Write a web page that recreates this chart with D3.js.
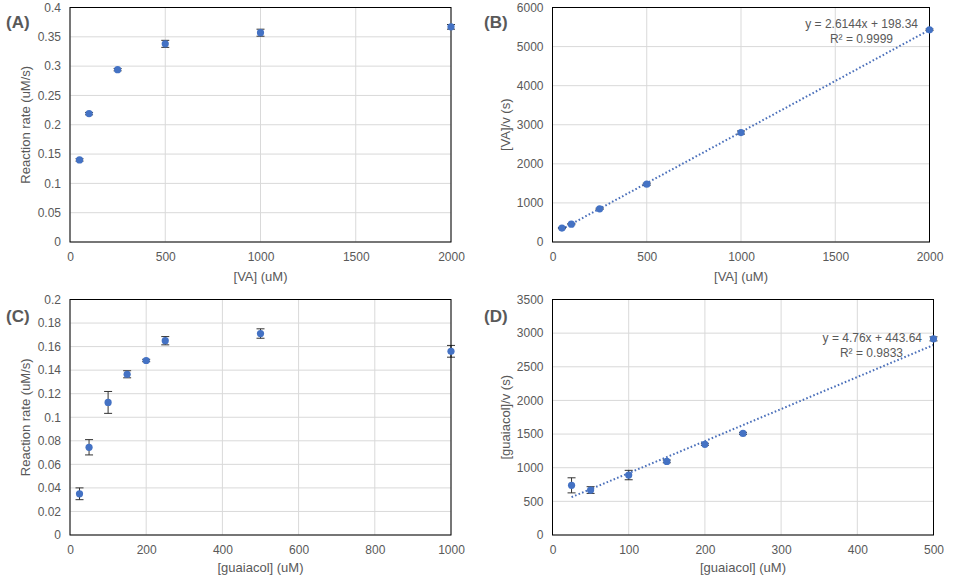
<!DOCTYPE html>
<html><head><meta charset="utf-8">
<script src="https://cdn.jsdelivr.net/npm/d3@7"></script>
<style>body{margin:0;background:#fff}svg{display:block}text{font-family:"Liberation Sans",Arial,sans-serif}</style>
</head><body><svg id="c" width="958" height="586"></svg>
<script>
// Panel A: [VA] vs rate
const vaConc = [50, 100, 250, 500, 1000, 2000];
const vaRate = [0.140, 0.219, 0.294, 0.338, 0.357, 0.367];
const vaRateErr = [0.002, 0.002, 0.002, 0.006, 0.006, 0.004];
// Panel B: Hanes-Woolf [VA]/v
const vaHanes = [357, 457, 850, 1479, 2801, 5430];
const vaHanesErr = [15, 15, 15, 25, 40, 20];
const vaFit = {slope: 2.6144, intercept: 198.34, eq: "y = 2.6144x + 198.34", r2: "R² = 0.9999"};
// Panel C: guaiacol vs rate
const gConc = [25, 50, 100, 150, 200, 250, 500, 1000];
const gRate = [0.035, 0.0745, 0.1126, 0.1365, 0.1482, 0.1650, 0.1711, 0.1560];
const gRateErr = [0.005, 0.0065, 0.0093, 0.003, 0.001, 0.0035, 0.004, 0.005];
// Panel D: Hanes-Woolf [guaiacol]/v
const gHanesConc = [25, 50, 100, 150, 200, 250, 500];
const gHanes = [738, 668, 891, 1094, 1347, 1510, 2915];
const gHanesErr = [112, 50, 70, 20, 15, 15, 30];
const gFit = {slope: 4.76, intercept: 443.64, eq: "y = 4.76x + 443.64", r2: "R² = 0.9833"};

const xTicksVA = [0, 500, 1000, 1500, 2000];
const yTicksA = [0, 0.05, 0.1, 0.15, 0.2, 0.25, 0.3, 0.35, 0.4];
const yTicksB = [0, 1000, 2000, 3000, 4000, 5000, 6000];
const xTicksC = [0, 200, 400, 600, 800, 1000];
const yTicksC = [0, 0.02, 0.04, 0.06, 0.08, 0.1, 0.12, 0.14, 0.16, 0.18, 0.2];
const xTicksD = [0, 100, 200, 300, 400, 500];
const yTicksD = [0, 500, 1000, 1500, 2000, 2500, 3000, 3500];

const svg = d3.select("#c");
const blue = "#4472C4", txt = "#595959";

function panel(o) {
  const g = svg.append("g");
  const x = d3.scaleLinear().domain(o.xd).range([o.l, o.r]);
  const y = d3.scaleLinear().domain(o.yd).range([o.b, o.t]);
  // grid
  g.append("g").selectAll("line.h").data(o.yt).join("line")
    .attr("x1", o.l).attr("x2", o.r).attr("y1", d => y(d)).attr("y2", d => y(d))
    .attr("stroke", "#d9d9d9").attr("stroke-width", 1);
  g.append("g").selectAll("line.v").data(o.xt).join("line")
    .attr("y1", o.t).attr("y2", o.b).attr("x1", d => x(d)).attr("x2", d => x(d))
    .attr("stroke", "#d9d9d9").attr("stroke-width", 1);
  // axes labels via d3 axes (no lines)
  const ya = d3.axisLeft(y).tickValues(o.yt).tickSize(0).tickPadding(9).tickFormat(d => String(+d.toFixed(3)));
  const yg = g.append("g").attr("transform", `translate(${o.l},0)`).call(ya);
  const xa = d3.axisBottom(x).tickValues(o.xt).tickSize(0).tickPadding(10).tickFormat(d => String(d));
  const xg = g.append("g").attr("transform", `translate(0,${o.b})`).call(xa);
  [yg, xg].forEach(a => {
    a.select(".domain").remove();
    a.selectAll("text").attr("fill", txt).attr("font-size", 12).attr("font-family", '"Liberation Sans",Arial,sans-serif');
  });
  // axis titles
  g.append("text").attr("x", (o.l + o.r) / 2).attr("y", o.xTitleY).attr("text-anchor", "middle")
    .attr("fill", txt).attr("font-size", 13).text(o.xTitle);
  g.append("text").attr("transform", `translate(${o.yTitleX},${(o.t + o.b) / 2}) rotate(-90)`)
    .attr("text-anchor", "middle").attr("dy", "0.35em").attr("fill", txt).attr("font-size", 13).text(o.yTitle);
  // panel letter
  g.append("text").attr("x", o.labX).attr("y", o.labY).attr("fill", txt).attr("font-size", 17)
    .attr("font-weight", "bold").text(o.label);
  // trendline
  if (o.fit) {
    const x0 = d3.min(o.xs), x1 = d3.max(o.xs);
    g.append("line").attr("x1", x(x0)).attr("y1", y(o.fit.slope * x0 + o.fit.intercept))
      .attr("x2", x(x1)).attr("y2", y(o.fit.slope * x1 + o.fit.intercept))
      .attr("stroke", "#4a6fba").attr("stroke-width", 2).attr("stroke-dasharray", "1.6,2.2");
    g.append("text").attr("x", o.eqX).attr("y", o.eqY).attr("text-anchor", "end").attr("fill", txt)
      .attr("font-size", 12).text(o.fit.eq);
    g.append("text").attr("x", o.r2X).attr("y", o.eqY + 14.5).attr("text-anchor", "end").attr("fill", txt)
      .attr("font-size", 12).text(o.fit.r2);
  }
  // error bars
  const pts = o.xs.map((d, i) => ({x: d, y: o.ys[i], e: o.es[i]}));
  const eb = g.append("g").attr("stroke", "#333").attr("stroke-width", 1);
  eb.selectAll("line.s").data(pts).join("line")
    .attr("x1", d => x(d.x)).attr("x2", d => x(d.x)).attr("y1", d => y(d.y - d.e)).attr("y2", d => y(d.y + d.e));
  eb.selectAll("line.t").data(pts).join("line")
    .attr("x1", d => x(d.x) - 4).attr("x2", d => x(d.x) + 4).attr("y1", d => y(d.y + d.e)).attr("y2", d => y(d.y + d.e));
  eb.selectAll("line.u").data(pts).join("line")
    .attr("x1", d => x(d.x) - 4).attr("x2", d => x(d.x) + 4).attr("y1", d => y(d.y - d.e)).attr("y2", d => y(d.y - d.e));
  // frame
  g.append("rect").attr("x", o.l).attr("y", o.t).attr("width", o.r - o.l).attr("height", o.b - o.t)
    .attr("fill", "none").attr("stroke", "#000").attr("stroke-width", 1);
  // markers
  g.append("g").selectAll("circle").data(pts).join("circle")
    .attr("cx", d => x(d.x)).attr("cy", d => y(d.y)).attr("r", 3.6).attr("fill", blue);
}

panel({label: "(A)", labX: 6, labY: 28, l: 70, r: 451, t: 7.5, b: 242, xd: [0, 2000], yd: [0, 0.4],
  xt: xTicksVA, yt: yTicksA, xs: vaConc, ys: vaRate, es: vaRateErr,
  xTitle: "[VA] (uM)", xTitleY: 281, yTitle: "Reaction rate  (uM/s)", yTitleX: 25});
panel({label: "(B)", labX: 484, labY: 28, l: 552.5, r: 929.5, t: 7.5, b: 242, xd: [0, 2000], yd: [0, 6000],
  xt: xTicksVA, yt: yTicksB, xs: vaConc, ys: vaHanes, es: vaHanesErr, fit: vaFit, eqX: 918, r2X: 893, eqY: 28,
  xTitle: "[VA] (uM)", xTitleY: 281, yTitle: "[VA]/v (s)", yTitleX: 505});
panel({label: "(C)", labX: 6, labY: 322, l: 70, r: 451, t: 299.5, b: 535, xd: [0, 1000], yd: [0, 0.2],
  xt: xTicksC, yt: yTicksC, xs: gConc, ys: gRate, es: gRateErr,
  xTitle: "[guaiacol]  (uM)", xTitleY: 572, yTitle: "Reaction rate  (uM/s)", yTitleX: 25});
panel({label: "(D)", labX: 484, labY: 322, l: 552.5, r: 933.5, t: 299.5, b: 535, xd: [0, 500], yd: [0, 3500],
  xt: xTicksD, yt: yTicksD, xs: gHanesConc, ys: gHanes, es: gHanesErr, fit: gFit, eqX: 922, r2X: 903, eqY: 342,
  xTitle: "[guaiacol]  (uM)", xTitleY: 572, yTitle: "[guaiacol]/v  (s)", yTitleX: 505});
</script></body></html>
